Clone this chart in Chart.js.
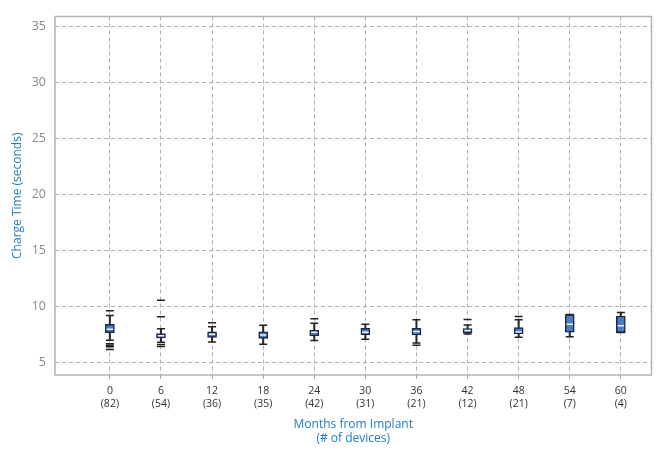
<!DOCTYPE html>
<html>
<head>
<meta charset="utf-8">
<script src="https://cdn.jsdelivr.net/npm/chart.js@4"></script>
<style>
  body { margin: 0; background: #fff; }
  #wrap { width: 657px; height: 451px; }
</style>
</head>
<body>
<div id="wrap"><canvas id="chargeChart" width="657" height="451"></canvas></div>
<script>
// Charge time per follow-up month (box plot)
const months = [0, 6, 12, 18, 24, 30, 36, 42, 48, 54, 60];
const devices = [82, 54, 36, 35, 42, 31, 21, 12, 21, 7, 4];
const whiskerLow = [6.96, 6.78, 6.81, 6.61, 6.93, 7.05, 6.70, 7.52, 7.23, 7.26, 7.64];
const q1 = [7.64, 7.17, 7.20, 7.11, 7.35, 7.43, 7.43, 7.58, 7.52, 7.67, 7.64];
const median = [7.94, 7.37, 7.49, 7.43, 7.67, 7.67, 7.73, 7.82, 7.70, 8.38, 8.26];
const q3 = [8.38, 7.55, 7.70, 7.70, 7.85, 8.02, 8.02, 7.99, 8.08, 9.26, 9.12];
const whiskerHigh = [9.17, 7.99, 8.17, 8.29, 8.47, 8.38, 8.79, 8.32, 8.79, 9.26, 9.44];
const outliers = [
    [9.59, 6.64, 6.52, 6.37, 6.14],
    [10.53, 9.06, 6.58, 6.40],
    [8.53],
    [],
    [8.88],
    [],
    [6.52],
    [8.82],
    [9.09],
    [],
    []
];

const FONT = "'Open Sans', 'Noto Sans', sans-serif";
const BLUE_TITLE = '#1f7cc1';

const idx = months.map((m, i) => i);

const framePlugin = {
    id: 'frame',
    beforeDatasetsDraw(chart) {
        const a = chart.chartArea;
        const ctx = chart.ctx;
        ctx.save();
        ctx.strokeStyle = '#b3b3b3';
        ctx.lineWidth = 1.5;
        ctx.strokeRect(a.left, a.top, a.right - a.left, a.bottom - a.top);
        ctx.restore();
    }
};

const capPoints = [];
idx.forEach(i => {
    capPoints.push({ x: i, y: whiskerLow[i] });
    capPoints.push({ x: i, y: whiskerHigh[i] });
});
const outlierPoints = [];
idx.forEach(i => outliers[i].forEach(v => outlierPoints.push({ x: i, y: v })));

new Chart(document.getElementById('chargeChart').getContext('2d'), {
    type: 'bar',
    data: {
        datasets: [
            {
                label: 'whisker',
                data: idx.map(i => ({ x: i, y: [whiskerLow[i], whiskerHigh[i]] })),
                backgroundColor: '#2a2a2a',
                barThickness: 1.4,
                grouped: false,
                order: 3
            },
            {
                label: 'box',
                data: idx.map(i => ({ x: i, y: [q1[i], q3[i]] })),
                backgroundColor: '#4a7ec3',
                borderColor: '#1b2745',
                borderWidth: 1.5,
                borderSkipped: false,
                barThickness: 9,
                grouped: false,
                order: 2
            },
            {
                type: 'line',
                label: 'median',
                data: idx.map(i => ({ x: i, y: median[i] })),
                showLine: false,
                pointStyle: 'line',
                pointRadius: 3.2,
                borderColor: '#e9eef6',
                borderWidth: 1.5,
                order: 1
            },
            {
                type: 'line',
                label: 'caps',
                data: capPoints,
                showLine: false,
                pointStyle: 'line',
                pointRadius: 4,
                borderColor: '#222',
                borderWidth: 1.5,
                order: 1
            },
            {
                type: 'line',
                label: 'outliers',
                data: outlierPoints,
                showLine: false,
                pointStyle: 'line',
                pointRadius: 4,
                borderColor: '#222',
                borderWidth: 1.5,
                order: 1
            }
        ]
    },
    options: {
        responsive: false,
        animation: false,
        layout: { padding: { left: 0, right: 4, top: 11, bottom: 0 } },
        plugins: {
            legend: { display: false },
            tooltip: { enabled: false }
        },
        scales: {
            x: {
                type: 'linear',
                min: -1.074,
                max: 10.6,
                offset: false,
                afterBuildTicks: axis => { axis.ticks = idx.map(i => ({ value: i })); },
                afterFit: scale => { scale.height = 76; },
                border: { display: false, dash: [4, 3] },
                grid: {
                    offset: false,
                    color: '#aeaeae',
                    lineWidth: 1,
                    drawTicks: true,
                    tickLength: 4,
                    tickColor: '#aaa',
                    tickBorderDash: []
                },
                ticks: {
                    padding: 6,
                    maxRotation: 0,
                    autoSkip: false,
                    color: '#333',
                    font: { family: FONT, size: 10.5 },
                    callback: v => [String(months[v]), '(' + devices[v] + ')']
                },
                title: {
                    display: true,
                    text: ['Months from Implant', '(# of devices)'],
                    color: BLUE_TITLE,
                    font: { family: FONT, size: 12 },
                    padding: { top: 0, bottom: 5 }
                }
            },
            y: {
                min: 3.85,
                max: 35.9,
                afterBuildTicks: axis => { axis.ticks = [5, 10, 15, 20, 25, 30, 35].map(v => ({ value: v })); },
                afterFit: scale => { scale.width = 55; },
                border: { display: false, dash: [4, 3] },
                grid: {
                    color: '#aeaeae',
                    lineWidth: 1,
                    drawTicks: false
                },
                ticks: {
                    padding: 9,
                    color: '#8a8a8a',
                    font: { family: FONT, size: 12.5 }
                },
                title: {
                    display: true,
                    text: 'Charge Time (seconds)',
                    color: BLUE_TITLE,
                    font: { family: FONT, size: 12 },
                    padding: { top: 10, bottom: 0 }
                }
            }
        }
    },
    plugins: [framePlugin]
});
</script>
</body>
</html>
